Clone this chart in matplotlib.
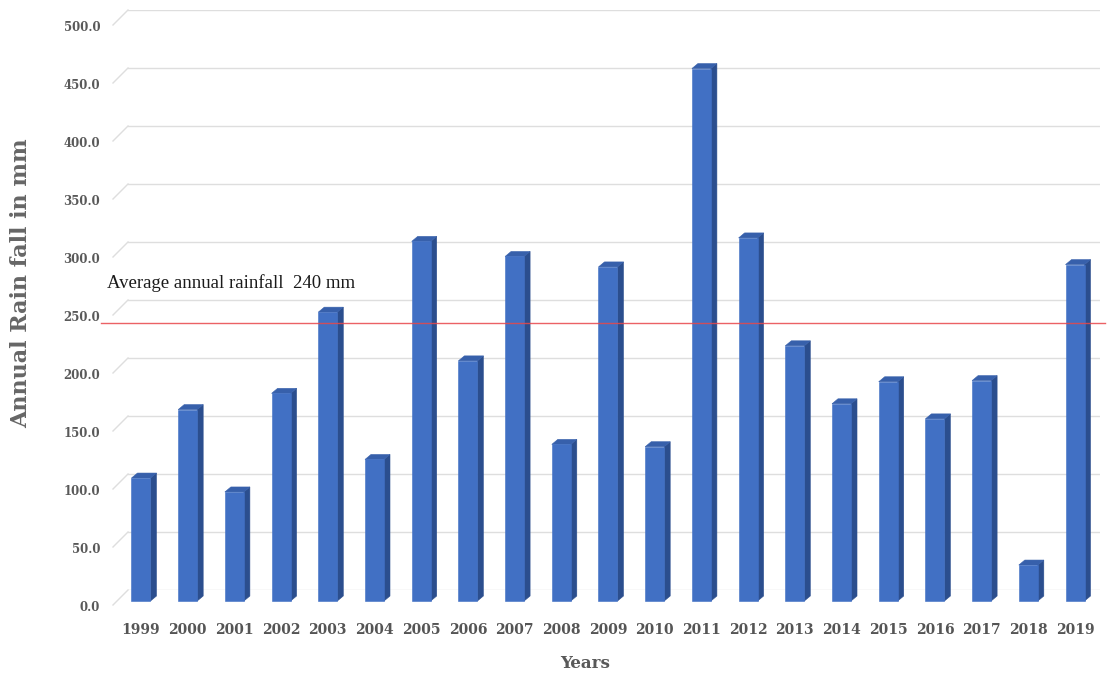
import matplotlib
matplotlib.use("Agg")
import matplotlib.pyplot as plt
from matplotlib.patches import Polygon
from matplotlib.transforms import offset_copy, blended_transform_factory, ScaledTranslation
from matplotlib.lines import Line2D

# Annual rainfall (mm) per year
years = ["1999", "2000", "2001", "2002", "2003", "2004", "2005", "2006", "2007", "2008",
         "2009", "2010", "2011", "2012", "2013", "2014", "2015", "2016", "2017", "2018", "2019"]
rainfall = [106, 165, 94, 179, 249, 122, 310, 207, 297, 135,
            288, 133, 459, 313, 220, 170, 189, 157, 190, 31, 290]
avg_rainfall = 240
y_ticks = [0, 50, 100, 150, 200, 250, 300, 350, 400, 450, 500]

DPI = 100
fig = plt.figure(figsize=(11.12, 6.75), dpi=DPI)
fig.patch.set_facecolor("white")
ax = fig.add_axes([128 / 1112, 85 / 675, 972 / 1112, 580 / 675])
ax.set_xlim(-0.278, 20.535)
ax.set_ylim(0, 500)
for s in ax.spines.values():
    s.set_visible(False)
ax.set_facecolor("none")

# pixel size of one data unit along each axis
p0 = ax.transData.transform((0, 0))
p1 = ax.transData.transform((1, 1))
px_x = p1[0] - p0[0]
px_y = p1[1] - p0[1]

grid_col = "#dedede"
# back wall gridlines with the short floor-side diagonal
ax.set_yticks(y_ticks)
ax.yaxis.grid(True, color=grid_col, lw=1.0, zorder=0)
ax.set_axisbelow(True)
diag = blended_transform_factory(ax.transAxes, ax.transData)
for t in y_ticks:
    ax.add_line(Line2D([0, -15 / 972], [t, t - 15 / px_y], transform=diag,
                       color=grid_col, lw=1.0, clip_on=False, zorder=0))

# y tick labels, shifted down to the front edge
ax.set_yticklabels([f"{t:.1f}" for t in y_ticks], fontfamily="DejaVu Serif",
                   fontweight="bold", fontsize=8.5, color="#595959")
ax.tick_params(axis="y", length=0, pad=20)
shift_y = ScaledTranslation(0, -16 / DPI, fig.dpi_scale_trans)
for lab in ax.get_yticklabels():
    lab.set_transform(lab.get_transform() + shift_y)

# x tick labels
ax.set_xticks(range(len(years)))
ax.set_xticklabels(years, fontfamily="DejaVu Serif", fontweight="bold",
                   fontsize=10, color="#555555")
ax.tick_params(axis="x", length=0, pad=24)
ax.xaxis.grid(False)

# 3D-style columns
front_tr = offset_copy(ax.transData, fig=fig, x=0, y=-11, units="dots")
w = 19 / px_x
ddx = 6 / px_x
ddy = 5 / px_y
c_front = "#4170c4"
c_side = "#2b4e8e"
c_top = "#3760ab"
for i, v in enumerate(rainfall):
    xl, xr = i - w / 2, i + w / 2
    side = Polygon([(xr, 0), (xr + ddx, ddy), (xr + ddx, v + ddy), (xr, v)], closed=True,
                   facecolor=c_side, edgecolor=c_side, lw=0.4, transform=front_tr,
                   zorder=3, clip_on=False)
    top = Polygon([(xl, v), (xr, v), (xr + ddx, v + ddy), (xl + ddx, v + ddy)], closed=True,
                  facecolor=c_top, edgecolor=c_top, lw=0.4, transform=front_tr,
                  zorder=3, clip_on=False)
    front = Polygon([(xl, 0), (xr, 0), (xr, v), (xl, v)], closed=True,
                    facecolor=c_front, edgecolor=c_front, lw=0.4, transform=front_tr,
                    zorder=3.1, clip_on=False)
    for p in (side, top, front):
        ax.add_patch(p)

# average rainfall line and its label
ax.add_line(Line2D([-0.28 - 27 / px_x, 20.535 + 5 / px_x], [avg_rainfall, avg_rainfall],
                   transform=front_tr, color="#e8474a", lw=1.0, alpha=0.85,
                   clip_on=False, zorder=4))
label_tr = offset_copy(ax.transData, fig=fig, x=0, y=20, units="dots")
ax.text(-0.278 - 21 / px_x, avg_rainfall, "Average annual rainfall  240 mm",
        transform=label_tr, fontfamily="Liberation Serif", fontsize=13.5,
        color="#1a1a1a", ha="left", va="bottom", zorder=5)

# axis titles
fig.text(0.019, 0.58, "Annual Rain fall in mm", rotation=90, ha="center", va="center",
         fontfamily="DejaVu Serif", fontweight="bold", fontsize=16, color="#666666")
fig.text(585 / 1112, 12 / 675, "Years", ha="center", va="center",
         fontfamily="DejaVu Serif", fontweight="bold", fontsize=12, color="#595959")

fig.savefig("out.png", dpi=DPI)
